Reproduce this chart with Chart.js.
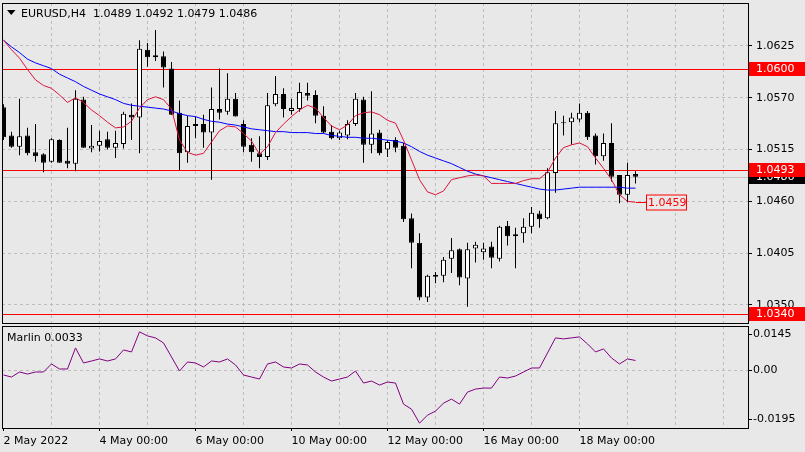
<!DOCTYPE html>
<html>
<head>
<meta charset="utf-8">
<script src="https://cdn.jsdelivr.net/npm/chart.js@4.4.1/dist/chart.umd.min.js"></script>
<style>
  html, body { margin: 0; padding: 0; background: #e8e8e8; }
  #wrap { position: relative; width: 805px; height: 452px; overflow: hidden; }
  canvas { position: absolute; left: 0; }
  #main { top: 0; }
  #sub { top: 324px; }
</style>
</head>
<body>
<div id="wrap">
  <canvas id="main" width="805" height="326"></canvas>
  <canvas id="sub" width="805" height="128"></canvas>
</div>
<script>
/* data: EURUSD H4, 2 May 2022 00:00 .. 19 May 04:00 */
const opens = [1.0560,1.0530,1.0518,1.0530,1.0512,1.0510,1.0502,1.0525,1.0503,1.0500,
  1.0568,1.0516,1.0519,1.0526,1.0517,1.0521,1.0552,1.0549,1.0621,1.0615,
  1.0614,1.0601,1.0554,1.0512,1.0542,1.0542,1.0533,1.0558,1.0555,1.0569,
  1.0542,1.0520,1.0511,1.0507,1.0563,1.0574,1.0556,1.0558,1.0575,1.0573,
  1.0551,1.0534,1.0527,1.0530,1.0542,1.0568,1.0520,1.0533,1.0515,1.0525,
  1.0519,1.0442,1.0416,1.0358,1.0380,1.0381,1.0399,1.0409,1.0378,1.0410,
  1.0406,1.0412,1.0399,1.0434,1.0423,1.0426,1.0433,1.0447,1.0442,1.0490,
  1.0544,1.0544,1.0547,1.0554,1.0530,1.0508,1.0522,1.0488,1.0467,1.0489];
const highs = [1.0563,1.0534,1.0569,1.0538,1.0542,1.0511,1.0527,1.0526,1.0538,1.0578,
  1.0571,1.0541,1.0535,1.0534,1.0535,1.0555,1.0564,1.0631,1.0628,1.0642,
  1.0619,1.0608,1.0567,1.0551,1.0550,1.0552,1.0581,1.0601,1.0596,1.0575,
  1.0546,1.0527,1.0529,1.0575,1.0593,1.0580,1.0569,1.0586,1.0586,1.0578,
  1.0561,1.0541,1.0535,1.0546,1.0575,1.0571,1.0577,1.0536,1.0525,1.0528,
  1.0522,1.0447,1.0426,1.0382,1.0385,1.0401,1.0421,1.0410,1.0416,1.0417,
  1.0416,1.0417,1.0434,1.0439,1.0432,1.0442,1.0454,1.0450,1.0495,1.0556,
  1.0551,1.0554,1.0564,1.0556,1.0532,1.0532,1.0543,1.0488,1.0501,1.0492];
const lows = [1.0525,1.0517,1.0509,1.0509,1.0502,1.0491,1.0501,1.0501,1.0495,1.0492,
  1.0517,1.0512,1.0513,1.0515,1.0506,1.0516,1.0525,1.0511,1.0603,1.0609,
  1.0581,1.0552,1.0493,1.0501,1.0527,1.0517,1.0483,1.0547,1.0552,1.0550,
  1.0512,1.0502,1.0495,1.0504,1.0561,1.0549,1.0552,1.0555,1.0567,1.0543,
  1.0532,1.0526,1.0525,1.0526,1.0540,1.0501,1.0511,1.0509,1.0507,1.0512,
  1.0438,1.0389,1.0355,1.0353,1.0373,1.0374,1.0384,1.0371,1.0348,1.0395,
  1.0398,1.0389,1.0396,1.0413,1.0389,1.0416,1.0426,1.0432,1.0441,1.0469,
  1.0530,1.0520,1.0544,1.0525,1.0499,1.0503,1.0481,1.0458,1.0459,1.0479];
const closes = [1.0528,1.0518,1.0529,1.0511,1.0508,1.0501,1.0526,1.0501,1.0500,1.0569,
  1.0517,1.0519,1.0524,1.0517,1.0522,1.0553,1.0549,1.0622,1.0613,1.0613,
  1.0602,1.0552,1.0511,1.0540,1.0540,1.0533,1.0558,1.0554,1.0569,1.0550,
  1.0518,1.0512,1.0507,1.0562,1.0574,1.0558,1.0559,1.0576,1.0572,1.0551,
  1.0533,1.0527,1.0533,1.0542,1.0569,1.0520,1.0532,1.0511,1.0523,1.0517,
  1.0441,1.0416,1.0358,1.0381,1.0382,1.0398,1.0408,1.0379,1.0409,1.0414,
  1.0410,1.0400,1.0433,1.0423,1.0425,1.0433,1.0448,1.0441,1.0491,1.0543,
  1.0543,1.0549,1.0554,1.0528,1.0508,1.0522,1.0486,1.0467,1.0488,1.0486];
const maFast = [1.0631,1.0621,1.0612,1.0600,1.0589,1.0583,1.0580,1.0573,1.0565,1.0570,
  1.0565,1.0557,1.0551,1.0544,1.0538,1.0539,1.0545,1.0559,1.0568,1.0571,
  1.0568,1.0558,1.0525,1.0512,1.0509,1.0511,1.0523,1.0535,1.0540,1.0539,
  1.0532,1.0524,1.0510,1.0518,1.0533,1.0542,1.0550,1.0557,1.0562,1.0559,
  1.0549,1.0540,1.0536,1.0541,1.0551,1.0554,1.0555,1.0552,1.0546,1.0543,
  1.0525,1.0504,1.0483,1.0470,1.0467,1.0471,1.0483,1.0485,1.0487,1.0488,
  1.0487,1.0479,1.0479,1.0479,1.0479,1.0482,1.0484,1.0484,1.0491,1.0506,
  1.0517,1.0520,1.0522,1.0518,1.0506,1.0495,1.0483,1.0467,1.0460,1.0459];
const maSlow = [1.0631,1.0624,1.0618,1.0611,1.0607,1.0604,1.0601,1.0595,1.0591,1.0587,
  1.0582,1.0578,1.0574,1.0571,1.0568,1.0564,1.0562,1.0561,1.0560,1.0559,
  1.0558,1.0556,1.0553,1.0551,1.0550,1.0547,1.0545,1.0544,1.0542,1.0541,
  1.0539,1.0537,1.0536,1.0535,1.0534,1.0534,1.0533,1.0533,1.0533,1.0532,
  1.0532,1.0530,1.0529,1.0528,1.0528,1.0527,1.0527,1.0526,1.0525,1.0524,
  1.0522,1.0518,1.0513,1.0509,1.0506,1.0503,1.0500,1.0496,1.0492,1.0489,
  1.0487,1.0485,1.0483,1.0481,1.0479,1.0477,1.0475,1.0473,1.0472,1.0472,
  1.0473,1.0474,1.0475,1.0475,1.0475,1.0475,1.0475,1.0475,1.0474,1.0474];
const marlin = [-0.0018,-0.0026,-0.0006,-0.0014,-0.0006,-0.0006,0.0026,0.0006,0.0006,0.0090,
  0.0030,0.0038,0.0046,0.0038,0.0046,0.0082,0.0074,0.0154,0.0138,0.0130,
  0.0110,0.0054,-0.0002,0.0034,0.0030,0.0014,0.0038,0.0034,0.0046,0.0022,
  -0.0018,-0.0026,-0.0034,0.0026,0.0034,0.0014,0.0010,0.0026,0.0022,-0.0006,
  -0.0026,-0.0042,-0.0034,-0.0026,-0.0002,-0.0050,-0.0042,-0.0058,-0.0046,-0.0050,
  -0.0134,-0.0154,-0.0210,-0.0178,-0.0162,-0.0130,-0.0114,-0.0134,-0.0086,-0.0074,
  -0.0070,-0.0070,-0.0026,-0.0030,-0.0022,-0.0006,0.0010,0.0010,0.0070,0.0130,
  0.0126,0.0130,0.0134,0.0106,0.0074,0.0086,0.0050,0.0026,0.0046,0.0040];

const priceTicks = [1.0625, 1.0570, 1.0515, 1.0460, 1.0405, 1.0350];
const marlinTicks = [0.0145, 0, -0.0195];
const levels = [1.0600, 1.0493, 1.0340];
const maLabel = '1.0459';
const gridBars = [6,12,18,24,30,36,42,48,54,60,66,72,78,84,90];
const labelBars = [0, 12, 24, 36, 48, 60, 72];
const timeLabels = ['2 May 2022', '4 May 00:00', '6 May 00:00', '10 May 00:00',
  '12 May 00:00', '16 May 00:00', '18 May 00:00'];
/**/

Chart.defaults.font.family = 'DejaVu Sans';
Chart.defaults.font.size = 11;
Chart.defaults.color = '#000';

const BG = '#e8e8e8';
const GRID = '#bcbcbc';
const xMin = -0.1875, xMax = 93.0625;
const last = closes.length - 1;
const bars = closes.map((_, i) => i);

function hline(ctx, x1, x2, y) {
    ctx.beginPath();
    ctx.moveTo(x1, y);
    ctx.lineTo(x2, y);
    ctx.stroke();
}

function axisTag(ctx, y, text, bg) {
    ctx.fillStyle = bg;
    ctx.fillRect(749, Math.round(y) - 7, 56, 14);
    ctx.fillStyle = '#fff';
    ctx.textAlign = 'left';
    ctx.textBaseline = 'middle';
    ctx.fillText(text, 756, Math.round(y) + 0.5);
}

const mainDecor = {
    id: 'mainDecor',
    beforeDatasetsDraw(chart) {
        const {ctx, chartArea: a, scales: {y}} = chart;
        ctx.save();
        ctx.lineWidth = 1;
        ctx.strokeStyle = '#c4c4c4';
        hline(ctx, a.left, a.right, Math.round(y.getPixelForValue(closes[last])) + 0.5);
        ctx.strokeStyle = '#ff0000';
        levels.forEach(v => hline(ctx, a.left, a.right, Math.round(y.getPixelForValue(v)) + 0.5));
        ctx.restore();
    },
    afterDraw(chart) {
        const {ctx, chartArea: a, scales: {x, y}} = chart;
        ctx.save();
        ctx.lineWidth = 1;
        ctx.strokeStyle = '#000';
        ctx.strokeRect(a.left + 0.5, a.top + 0.5, a.right - a.left, a.bottom - a.top);

        // header
        ctx.fillStyle = '#000';
        ctx.beginPath();
        ctx.moveTo(7, 10);
        ctx.lineTo(15.5, 10);
        ctx.lineTo(11.25, 15);
        ctx.closePath();
        ctx.fill();
        ctx.textAlign = 'left';
        ctx.textBaseline = 'alphabetic';
        const ohlc = [opens[last], highs[last], lows[last], closes[last]].map(v => v.toFixed(4)).join(' ');
        ctx.fillText('EURUSD,H4  ' + ohlc, 21, 17);

        // label at the end of the fast average
        const lx = Math.round(x.getPixelForValue(last));
        const ly = Math.round(y.getPixelForValue(maFast[last])) + 0.5;
        ctx.strokeStyle = '#ff0000';
        hline(ctx, lx, lx + 10, ly);
        ctx.fillStyle = BG;
        ctx.fillRect(lx + 10, ly - 8, 40, 15);
        ctx.strokeRect(lx + 10.5, ly - 7.5, 40, 15);
        ctx.fillStyle = '#ff0000';
        ctx.textBaseline = 'middle';
        ctx.fillText(maLabel, lx + 12, ly + 0.5);

        // price tags on the axis
        axisTag(ctx, y.getPixelForValue(levels[0]), levels[0].toFixed(4), '#ff0000');
        axisTag(ctx, y.getPixelForValue(closes[last]), closes[last].toFixed(4), '#000');
        axisTag(ctx, y.getPixelForValue(levels[1]), levels[1].toFixed(4), '#ff0000');
        axisTag(ctx, y.getPixelForValue(levels[2]), levels[2].toFixed(4), '#ff0000');
        ctx.restore();
    }
};

const subDecor = {
    id: 'subDecor',
    afterDraw(chart) {
        const {ctx, chartArea: a} = chart;
        ctx.save();
        ctx.lineWidth = 1;
        ctx.strokeStyle = '#000';
        ctx.strokeRect(a.left + 0.5, a.top + 0.5, a.right - a.left, a.bottom - a.top);
        ctx.fillStyle = '#000';
        ctx.textAlign = 'left';
        ctx.textBaseline = 'alphabetic';
        ctx.fillText('Marlin 0.0033', 7, 17);
        ctx.restore();
    }
};

new Chart(document.getElementById('main'), {
    type: 'bar',
    data: {
        datasets: [{
            type: 'line',
            data: maFast.map((v, i) => ({x: i, y: v})),
            borderColor: '#dc143c',
            borderWidth: 1,
            pointRadius: 0,
            order: 0
        }, {
            type: 'line',
            data: maSlow.map((v, i) => ({x: i, y: v})),
            borderColor: '#0000ff',
            borderWidth: 1,
            pointRadius: 0,
            order: 1
        }, {
            data: bars.map(i => ({x: i, y: [opens[i], closes[i]]})),
            backgroundColor: bars.map(i => closes[i] >= opens[i] ? '#ffffff' : '#000000'),
            borderColor: '#000',
            borderWidth: 1,
            borderSkipped: false,
            barThickness: 5,
            grouped: false,
            inflateAmount: 0,
            order: 2
        }, {
            data: bars.map(i => ({x: i, y: [lows[i], highs[i]]})),
            backgroundColor: '#000',
            borderWidth: 0,
            barThickness: 1,
            grouped: false,
            inflateAmount: 0,
            order: 3
        }]
    },
    options: {
        responsive: false,
        animation: false,
        devicePixelRatio: 1,
        events: [],
        layout: {padding: {left: 2, top: 3, right: 0, bottom: 3}},
        plugins: {legend: {display: false}, tooltip: {enabled: false}},
        scales: {
            x: {
                type: 'linear', min: xMin, max: xMax, offset: false,
                afterBuildTicks: s => { s.ticks = gridBars.map(v => ({value: v})); },
                ticks: {display: false},
                grid: {color: GRID, drawTicks: false, offset: false},
                border: {display: false, dash: [3, 3]},
                afterFit: s => { s.height = 0; s.paddingLeft = 0; s.paddingRight = 0; }
            },
            y: {
                position: 'right', min: 1.03308, max: 1.06706, beginAtZero: false, bounds: 'data',
                afterBuildTicks: s => { s.ticks = priceTicks.map(v => ({value: v})); },
                ticks: {callback: v => v.toFixed(4), padding: 4},
                grid: {color: GRID, tickColor: '#000', tickLength: 4},
                border: {display: false, dash: [3, 3]},
                afterFit: s => { s.width = 57; s.paddingTop = 0; s.paddingBottom = 0; }
            }
        }
    },
    plugins: [mainDecor]
});

new Chart(document.getElementById('sub'), {
    type: 'line',
    data: {
        datasets: [{
            data: marlin.map((v, i) => ({x: i, y: v})),
            borderColor: '#800080',
            borderWidth: 1,
            pointRadius: 0
        }]
    },
    options: {
        responsive: false,
        animation: false,
        devicePixelRatio: 1,
        events: [],
        layout: {padding: {left: 2, top: 2, right: 0, bottom: 0}},
        plugins: {legend: {display: false}, tooltip: {enabled: false}},
        scales: {
            x: {
                type: 'linear', min: xMin, max: xMax,
                afterBuildTicks: s => { s.ticks = [0].concat(gridBars).map(v => ({value: v})); },
                ticks: {
                    autoSkip: false, maxRotation: 0, align: 'start', padding: 4,
                    callback: v => { const k = labelBars.indexOf(v); return k < 0 ? '' : timeLabels[k]; }
                },
                grid: {
                    color: c => (c.tick && c.tick.value > 0) ? GRID : 'transparent',
                    tickColor: c => (c.tick && labelBars.includes(c.tick.value)) ? '#000' : 'transparent',
                    tickLength: 3
                },
                border: {display: false, dash: [3, 3]},
                afterFit: s => { s.height = 24; s.paddingLeft = 0; s.paddingRight = 0; }
            },
            y: {
                position: 'right', min: -0.02292, max: 0.01774, bounds: 'data',
                afterBuildTicks: s => { s.ticks = marlinTicks.map(v => ({value: v})); },
                ticks: {callback: v => v === 0 ? '0.00' : v.toFixed(4), padding: 1},
                grid: {
                    color: c => (c.tick && c.tick.value === 0) ? GRID : 'transparent',
                    tickColor: '#000', tickLength: 4
                },
                border: {display: false, dash: [3, 3]},
                afterFit: s => { s.width = 57; s.paddingTop = 0; s.paddingBottom = 0; }
            }
        }
    },
    plugins: [subDecor]
});
</script>
</body>
</html>
